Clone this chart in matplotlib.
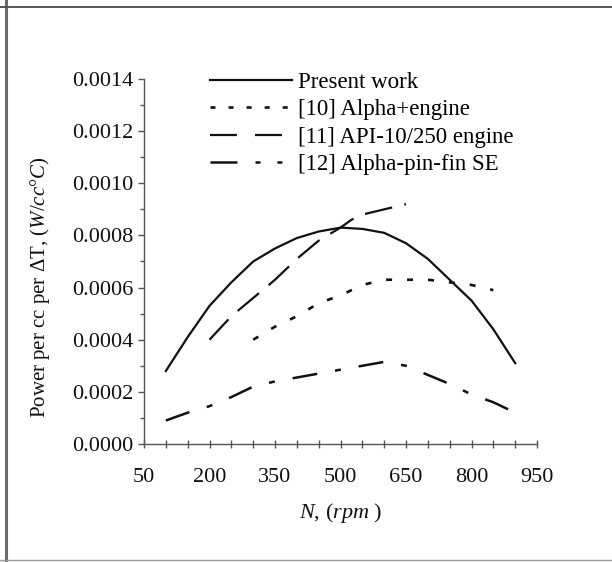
import matplotlib
matplotlib.use("Agg")
import matplotlib.pyplot as plt
from matplotlib.ticker import FixedLocator, MultipleLocator, FormatStrFormatter
from matplotlib.lines import Line2D

# Power per cc per degree of temperature difference vs engine speed
n_present = [100, 150, 200, 250, 300, 350, 400, 450, 500, 550, 600, 650, 700, 750, 800, 850, 900]
p_present = [0.00028, 0.00041, 0.00053, 0.00062, 0.00070, 0.00075, 0.00079, 0.000815, 0.00083,
             0.000825, 0.00081, 0.00077, 0.00071, 0.00063, 0.00055, 0.00044, 0.00031]

n_alpha = [300, 350, 400, 450, 500, 550, 600, 650, 700, 750, 800, 850]
p_alpha = [0.00040, 0.00045, 0.00049, 0.00054, 0.00057, 0.00061, 0.00063, 0.00063, 0.00063,
           0.00062, 0.00061, 0.00059]

n_api = [200, 250, 300, 350, 400, 450, 500, 525, 550, 600, 650]
p_api = [0.00040, 0.00049, 0.00056, 0.00063, 0.00071, 0.00078, 0.00083, 0.00086, 0.00088,
         0.00090, 0.00092]

n_pinfin = [100, 150, 200, 250, 300, 350, 400, 450, 500, 550, 600, 650, 700, 750, 800, 850, 900]
p_pinfin = [0.00009, 0.00012, 0.000145, 0.00018, 0.00022, 0.00024, 0.000255, 0.00027, 0.000285,
            0.00030, 0.000315, 0.00030, 0.000265, 0.00023, 0.00019, 0.00016, 0.00012]

labels = ["Present work", "[10] Alpha+engine", "[11] API-10/250 engine", "[12] Alpha-pin-fin SE"]

x_ticks = [50, 200, 350, 500, 650, 800, 950]
y_ticks = [0.0000, 0.0002, 0.0004, 0.0006, 0.0008, 0.0010, 0.0012, 0.0014]

plt.rcParams["font.family"] = ["Liberation Serif", "DejaVu Serif"]
plt.rcParams["mathtext.fontset"] = "custom"
plt.rcParams["mathtext.rm"] = "Liberation Serif"
plt.rcParams["mathtext.it"] = "Liberation Serif:italic"
plt.rcParams["lines.scale_dashes"] = False

fig = plt.figure(figsize=(6.12, 5.62), dpi=100)
fig.patch.set_facecolor("white")
ax = fig.add_axes([0.2353, 0.2100, 0.6422, 0.6494])

ink = "#111111"
lw = 1.6
styles = [
    dict(ls="-", lw=lw),
    dict(ls=(0, (4.3, 10.8)), lw=lw + 0.3),
    dict(ls=(0, (20, 9)), lw=lw),
    dict(ls=(0, (18, 13, 4.3, 13)), lw=lw + 0.2),
]
# the legend swatches use slightly different dash spacing
key_styles = [
    dict(ls="-", lw=lw),
    dict(ls=(0, (3.6, 9.4)), lw=lw + 0.3),
    dict(ls=(0, (19.4, 13)), lw=lw),
    dict(ls=(0, (19.4, 13, 3.6, 12.2, 3.6, 20)), lw=lw + 0.2),
]

series = [(n_present, p_present), (n_alpha, p_alpha), (n_api, p_api), (n_pinfin, p_pinfin)]
for (xs, ys), st in zip(series, styles):
    ax.plot(xs, ys, color=ink, **st)

ax.set_xlim(50, 950)
ax.set_ylim(0, 0.0014)
ax.xaxis.set_major_locator(FixedLocator(x_ticks))
ax.xaxis.set_minor_locator(MultipleLocator(50))
ax.yaxis.set_major_locator(FixedLocator(y_ticks))
ax.yaxis.set_minor_locator(MultipleLocator(0.0001))
ax.yaxis.set_major_formatter(FormatStrFormatter("%.4f"))

for side in ("top", "right"):
    ax.spines[side].set_visible(False)
for side in ("left", "bottom"):
    ax.spines[side].set_color("#555555")
    ax.spines[side].set_linewidth(1.0)

ax.tick_params(which="both", color="#555555", width=1.0)
ax.tick_params(axis="y", which="both", direction="out")
ax.tick_params(axis="y", which="major", length=4, pad=4)
ax.tick_params(axis="y", which="minor", length=3)
ax.tick_params(axis="x", which="both", direction="inout", length=6)
ax.tick_params(axis="x", which="major", pad=14)
ax.tick_params(which="major", labelsize=16, labelcolor=ink)

ax.set_xlabel(r"$\mathit{N}$, ($\mathit{rpm}$ )", fontsize=16, color=ink)
ax.xaxis.set_label_coords(0.5, -0.155)
ax.set_ylabel(r"Power per cc per ΔT, ($\mathit{W/cc}$°$\mathit{C}$)", fontsize=15, color=ink)
ax.yaxis.set_label_coords(-0.235, 0.43)

handles = [Line2D([], [], color=ink, **st) for st in key_styles]
ax.legend(handles, labels, loc="upper left", bbox_to_anchor=(0.343, 0.872),
          bbox_transform=fig.transFigure, frameon=False, fontsize=16.5, handlelength=3.6,
          handletextpad=0.25, labelspacing=0.28, borderpad=0, borderaxespad=0)

# page frame lines around the figure
fig.add_artist(Line2D([6 / 612, 6 / 612], [0, 1], transform=fig.transFigure,
                      color="#6a6a6a", lw=2.2))
fig.add_artist(Line2D([0, 1], [1 - 7 / 562, 1 - 7 / 562], transform=fig.transFigure,
                      color="#555555", lw=1.4))
fig.add_artist(Line2D([0, 1], [2.5 / 562, 2.5 / 562], transform=fig.transFigure,
                      color="#9a9a9a", lw=1.0))

fig.savefig("out.png", dpi=100, facecolor="white")
